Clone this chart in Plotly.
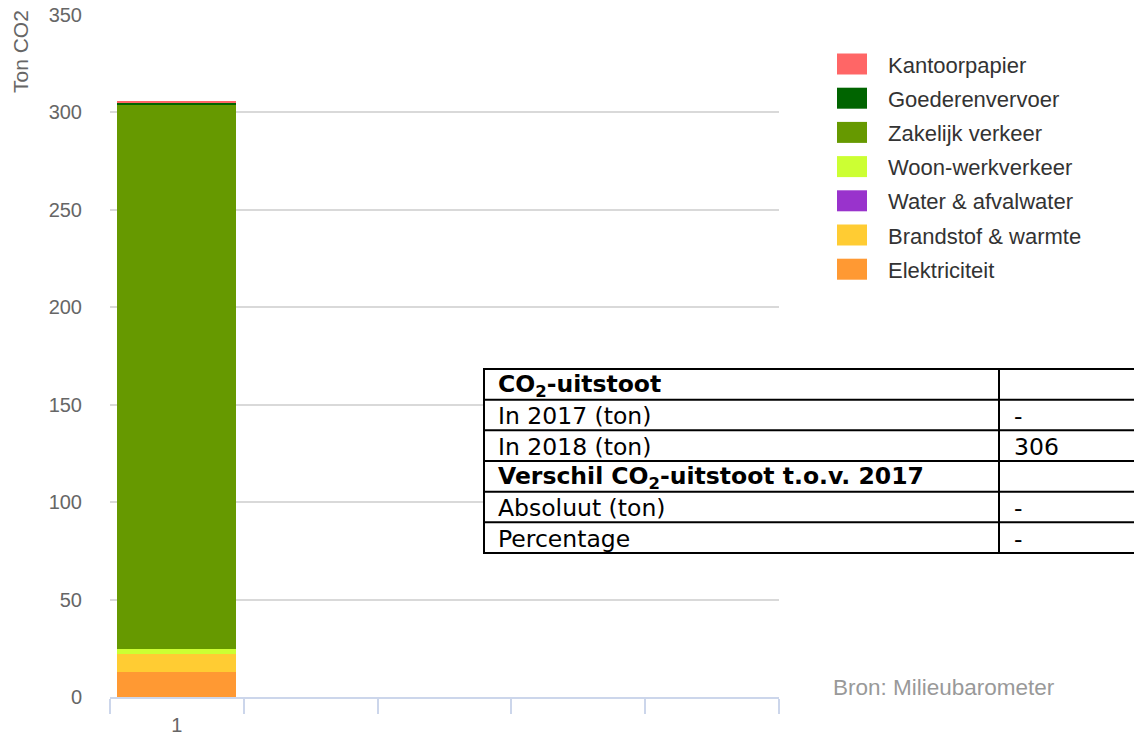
import plotly.graph_objects as go

# ---------------- data ----------------
categories = [1]
category_labels = ["1"]
series_names = ["Elektriciteit", "Brandstof & warmte", "Water & afvalwater",
                "Woon-werkverkeer", "Zakelijk verkeer", "Goederenvervoer", "Kantoorpapier"]
series_values = [[13.0], [8.9], [0.0], [2.9], [279.5], [0.9], [0.7]]
series_colors = ["#ff9933", "#ffcc33", "#9933cc", "#ccff33", "#669900", "#006400", "#ff6666"]

y_ticks = [0, 50, 100, 150, 200, 250, 300, 350]
y_title = "Ton CO2"
credits = "Bron: Milieubarometer"

table_labels = ["CO<sub>2</sub>-uitstoot", "In 2017 (ton)", "In 2018 (ton)",
                "Verschil CO<sub>2</sub>-uitstoot t.o.v. 2017", "Absoluut (ton)", "Percentage"]
table_values = ["", "-", "306", "", "-", "-"]
table_bold = [True, False, False, True, False, False]

# ---------------- layout helpers (pixel -> paper) ----------------
W, H = 1134, 735
L, R, T, B = 110, 779, 15, 697


def px(x):
    return (x - L) / (R - L)


def py(y):
    return (B - y) / (B - T)


FONT = "Liberation Sans, Arial"

fig = go.Figure()
for name, vals, col in zip(series_names, series_values, series_colors):
    fig.add_trace(go.Bar(x=categories, y=vals, name=name, marker_color=col,
                         marker_line_width=0, width=0.89, showlegend=False))

shapes = []
annotations = []

# legend (custom, top to bottom reversed stacking order)
leg_x0, leg_y0, leg_step = 837, 64, 34.2
for i, (name, col) in enumerate(zip(series_names[::-1], series_colors[::-1])):
    cy = leg_y0 + i * leg_step
    shapes.append(dict(type="rect", xref="paper", yref="paper",
                       x0=px(leg_x0), x1=px(leg_x0 + 30), y0=py(cy + 10.5), y1=py(cy - 10.5),
                       fillcolor=col, line_width=0, layer="above"))
    annotations.append(dict(xref="paper", yref="paper", x=px(886), y=py(cy + 1),
                            text=name, showarrow=False, xanchor="left", yanchor="middle",
                            font=dict(size=22, color="#333333", family=FONT)))

# table
tx0, tx1, tdiv = 484, 1145, 999
ty0, row_h = 369, 30.67
n = len(table_labels)
shapes.append(dict(type="rect", xref="paper", yref="paper",
                   x0=px(tx0), x1=px(tx1), y0=py(ty0 + n * row_h), y1=py(ty0),
                   fillcolor="white", line=dict(color="black", width=2), layer="above"))
for i in range(1, n):
    yy = ty0 + i * row_h
    shapes.append(dict(type="line", xref="paper", yref="paper",
                       x0=px(tx0), x1=px(tx1), y0=py(yy), y1=py(yy),
                       line=dict(color="black", width=2), layer="above"))
shapes.append(dict(type="line", xref="paper", yref="paper",
                   x0=px(tdiv), x1=px(tdiv), y0=py(ty0), y1=py(ty0 + n * row_h),
                   line=dict(color="black", width=2), layer="above"))
for i, (lab, val, bold) in enumerate(zip(table_labels, table_values, table_bold)):
    cy = ty0 + (i + 0.5) * row_h
    txt = f"<b>{lab}</b>" if bold else lab
    annotations.append(dict(xref="paper", yref="paper", x=px(496), y=py(cy + 1),
                            text=txt, showarrow=False, xanchor="left", yanchor="middle",
                            font=dict(size=23.5, color="black", family="DejaVu Sans")))
    if val:
        annotations.append(dict(xref="paper", yref="paper", x=px(1012), y=py(cy + 1),
                                text=val, showarrow=False, xanchor="left", yanchor="middle",
                                font=dict(size=23.5, color="black", family="DejaVu Sans")))

# y axis title
annotations.append(dict(xref="paper", yref="paper", x=px(21), y=py(52), text=y_title,
                        textangle=-90, showarrow=False, xanchor="center", yanchor="middle",
                        font=dict(size=21, color="#666666", family=FONT)))
# credits
annotations.append(dict(xref="paper", yref="paper", x=px(831), y=py(687), text=credits,
                        showarrow=False, xanchor="left", yanchor="middle",
                        font=dict(size=22.5, color="#999999", family=FONT)))

fig.update_layout(
    width=W, height=H,
    margin=dict(l=L, r=W - R, t=T, b=H - B, pad=0, autoexpand=False),
    barmode="stack",
    plot_bgcolor="white", paper_bgcolor="white",
    shapes=shapes, annotations=annotations,
    showlegend=False,
    xaxis=dict(range=[0.5, 5.5], tickmode="array", tickvals=categories, ticktext=category_labels,
               ticks="", showgrid=False, zeroline=False, showline=True, automargin=False,
               linecolor="#ccd6eb", linewidth=2,
               tickfont=dict(size=20, color="#666666", family=FONT),
               ticklabelstandoff=9,
               minor=dict(tickmode="array", tickvals=[0.5, 1.5, 2.5, 3.5, 4.5, 5.5],
                          ticks="outside", ticklen=15, tickwidth=2, tickcolor="#ccd6eb",
                          showgrid=False)),
    yaxis=dict(range=[0, 350], tickmode="array", tickvals=y_ticks, ticks="",
               showgrid=True, gridcolor="#d9d9d9", gridwidth=1.5, zeroline=False,
               showline=False, ticklabelstandoff=27, automargin=False,
               tickfont=dict(size=20, color="#666666", family=FONT)),
)

fig.write_html("out.html", config={"displayModeBar": False},
               post_script="document.body.style.margin='0';document.body.style.overflow='hidden';")
